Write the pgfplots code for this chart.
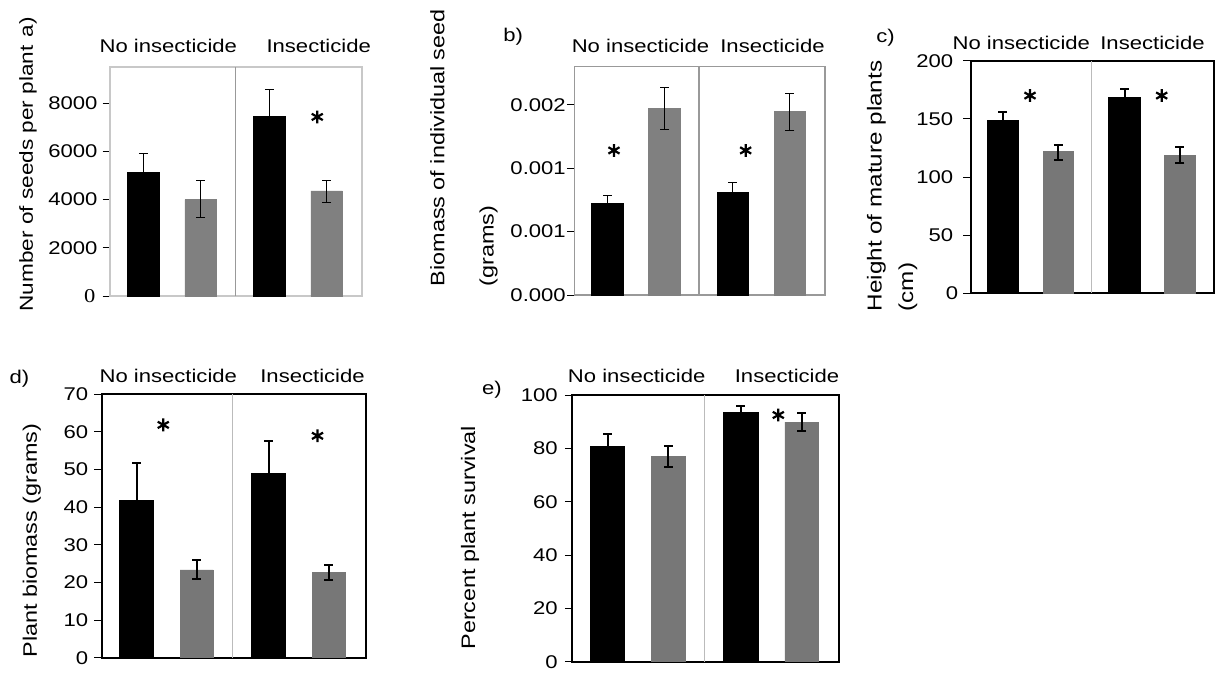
\documentclass[border=0pt]{standalone}
\usepackage{fontspec}
\setmainfont[FakeStretch=1.2]{Liberation Sans}
\newfontfamily\serifz[FakeStretch=1.15]{Liberation Serif}
\usepackage{pgfplots}
\pgfplotsset{compat=1.18}

\definecolor{bargA}{HTML}{808080}
\definecolor{bargC}{HTML}{777777}
\definecolor{frameA}{HTML}{C8C8C8}
\definecolor{frameB}{HTML}{999999}
\definecolor{divC}{HTML}{BBBBBB}

\newcommand{\tf}{\fontsize{9.2}{10}\selectfont}

\pgfplotsset{
  panel/.style={
    scale only axis, anchor=south west,
    xmin=0, xmax=4, ymin=0,
    xtick=\empty, ytick pos=left, tick align=outside,
    major tick length=3.75pt,
    tick style={black, line width=0.5pt},
    tick label style={font=\tf},
    scaled y ticks=false,
    clip=false,
  },
  blackbar/.style={ybar, bar width=0.5, bar shift=0pt, fill=black, draw=black, line width=#1,
    error bars/.cd, y dir=plus, y explicit,
    error bar style={black, line width=#1},
    error mark options={rotate=90, mark size=2.25pt, black, line width=#1}},
  graybar/.style 2 args={ybar, bar width=0.5, bar shift=0pt, fill=#2, draw=#2, line width=0.4pt,
    error bars/.cd, y dir=both, y explicit,
    error bar style={black, line width=#1},
    error mark options={rotate=90, mark size=2.25pt, black, line width=#1}},
  star/.style={only marks, mark=asterisk, mark size=3.2pt, mark options={black, line width=1.1pt}},
}

\begin{document}
\begin{tikzpicture}
\useasboundingbox (0,0) rectangle (611.5pt,338.5pt);

% ---------------- a) ----------------
\begin{axis}[panel, at={(55pt,190.5pt)}, width=126pt, height=114.5pt,
  ymax=9500, ytick={0,2000,4000,6000,8000},
  yticklabels={{\raisebox{-3.5pt}{\fontsize{9.8}{10}\serifz 0}\kern1pt},2000,4000,6000,8000},
  yticklabel style={xshift=1pt},
  axis line style={frameA, line width=0.6pt}]
\addplot[frameB, line width=0.6pt] coordinates {(1.99,0) (1.99,9500)};
\addplot[blackbar=0.5pt] coordinates {(0.53,5116) +- (0,805) (2.53,7440) +- (0,1110)};
\addplot[graybar={0.5pt}{bargA}] coordinates {(1.44,4000) += (0,800) -= (0,730) (3.44,4357) += (0,443) -= (0,457)};
\addplot[star] coordinates {(3.29,7430)};
\end{axis}

% ---------------- b) ----------------
\begin{axis}[panel, at={(287.15pt,191pt)}, width=125.35pt, height=114.15pt,
  ymax=0.0018, ytick={0,0.0005,0.001,0.0015},
  yticklabels={0.000,0.001,0.001,0.002},
  yticklabel style={xshift=3pt},
  axis line style={frameB, line width=0.6pt}]
\addplot[frameB, line width=0.6pt] coordinates {(1.99,0) (1.99,0.0018)};
\addplot[blackbar=0.5pt] coordinates {(0.53,0.000723) +- (0,0.000061) (2.53,0.000807) +- (0,0.000079)};
\addplot[graybar={0.5pt}{bargA}] coordinates {(1.44,0.001468) += (0,0.000165) -= (0,0.000165) (3.44,0.001447) += (0,0.000139) -= (0,0.000152)};
\addplot[star] coordinates {(0.633,0.00114) (2.734,0.00114)};
\end{axis}

% ---------------- c) ----------------
\begin{axis}[panel, at={(485.35pt,191.85pt)}, width=121.65pt, height=116.3pt,
  ymax=200, ytick={0,50,100,150,200},
  yticklabels={{\raisebox{-4pt}{0}\kern-2.5pt},50,100,150,200},
  yticklabel style={xshift=-1.5pt},
  axis line style={black, line width=1pt}]
\addplot[divC, line width=0.6pt] coordinates {(1.98,0) (1.98,200)};
\addplot[blackbar=1pt] coordinates {(0.53,148.3) +- (0,7.7) (2.53,168) +- (0,7.8)};
\addplot[graybar={1pt}{bargC}] coordinates {(1.44,122.3) += (0,5.4) -= (0,7.8) (3.44,118.8) += (0,6.6) -= (0,6.9)};
\addplot[star] coordinates {(0.975,170) (3.14,170)};
\end{axis}

% ---------------- d) ----------------
\begin{axis}[panel, at={(50.85pt,9.65pt)}, width=132pt, height=131.85pt,
  ymax=70, ytick={0,10,20,30,40,50,60,70},
  yticklabels={{\raisebox{-2.8pt}{0}},10,20,30,40,50,60,70},
  yticklabel style={xshift=0.5pt},
  axis line style={black, line width=1pt}]
\addplot[divC, line width=0.8pt] coordinates {(1.98,0) (1.98,70)};
\addplot[blackbar=1pt] coordinates {(0.53,41.6) +- (0,10.2) (2.53,48.8) +- (0,8.8)};
\addplot[graybar={1pt}{bargC}] coordinates {(1.44,23.3) += (0,2.6) -= (0,2.3) (3.44,22.7) += (0,1.9) -= (0,2.2)};
\addplot[star] coordinates {(0.933,61.8) (3.27,58.9)};
\end{axis}

% ---------------- e) ----------------
\begin{axis}[panel, at={(286.15pt,7.65pt)}, width=133.35pt, height=133.35pt,
  ymax=100, ytick={0,20,40,60,80,100},
  yticklabels={{\raisebox{-3.2pt}{0}},20,40,60,80,100},
  axis line style={black, line width=1pt}]
\addplot[divC, line width=0.8pt] coordinates {(1.98,0) (1.98,100)};
\addplot[blackbar=1pt] coordinates {(0.53,80.4) +- (0,5.0) (2.53,93.3) +- (0,2.6)};
\addplot[graybar={1pt}{bargC}] coordinates {(1.44,77.1) += (0,3.8) -= (0,4.0) (3.44,89.8) += (0,3.6) -= (0,3.3)};
\addplot[star] coordinates {(3.09,92.5)};
\end{axis}

% ---------------- texts ----------------
\tf
% group labels
\node[anchor=base, inner sep=0] at (84.15pt,312.35pt) {No insecticide};
\node[anchor=base, inner sep=0] at (159.35pt,312.35pt) {Insecticide};
\node[anchor=base, inner sep=0] at (320.25pt,312.15pt) {No insecticide};
\node[anchor=base, inner sep=0] at (386.25pt,312.15pt) {Insecticide};
\node[anchor=base, inner sep=0] at (510.65pt,313.85pt) {No insecticide};
\node[anchor=base, inner sep=0] at (576.25pt,313.85pt) {Insecticide};
\node[anchor=base, inner sep=0] at (84.15pt,147.15pt) {No insecticide};
\node[anchor=base, inner sep=0] at (156.25pt,147.15pt) {Insecticide};
\node[anchor=base, inner sep=0] at (318.35pt,147.15pt) {No insecticide};
\node[anchor=base, inner sep=0] at (393.5pt,147.15pt) {Insecticide};
% y labels and panel letters
\node[anchor=base west, rotate=90, inner sep=0, font=\fontsize{9.4}{10}\selectfont] at (16.5pt,182.65pt) {Number of seeds per plant\hspace{4pt}a)};
\node[anchor=base west, rotate=90, inner sep=0, font=\fontsize{9.75}{10}\selectfont] at (222.15pt,195.15pt) {Biomass of individual seed};
\node[anchor=base west, rotate=90, inner sep=0, font=\fontsize{9.75}{10}\selectfont] at (246.75pt,195.15pt) {(grams)};
\node[anchor=base west, inner sep=0] at (251.5pt,318pt) {b)};
\node[anchor=base west, rotate=90, inner sep=0, font=\fontsize{10.1}{11}\selectfont] at (440.75pt,182.65pt) {Height of mature plants};
\node[anchor=base west, rotate=90, inner sep=0, font=\fontsize{10.1}{11}\selectfont] at (456.5pt,182.65pt) {(cm)};
\node[anchor=base west, inner sep=0] at (438pt,317.5pt) {c)};
\node[anchor=base west, rotate=90, inner sep=0, font=\fontsize{9.75}{10}\selectfont] at (18.5pt,9.5pt) {Plant biomass (grams)};
\node[anchor=base west, inner sep=0] at (4.65pt,147pt) {d)};
\node[anchor=base west, rotate=90, inner sep=0, font=\fontsize{9.75}{10}\selectfont] at (237.5pt,13.5pt) {Percent plant survival};
\node[anchor=base west, inner sep=0] at (240.85pt,141.5pt) {e)};
\end{tikzpicture}
\end{document}
